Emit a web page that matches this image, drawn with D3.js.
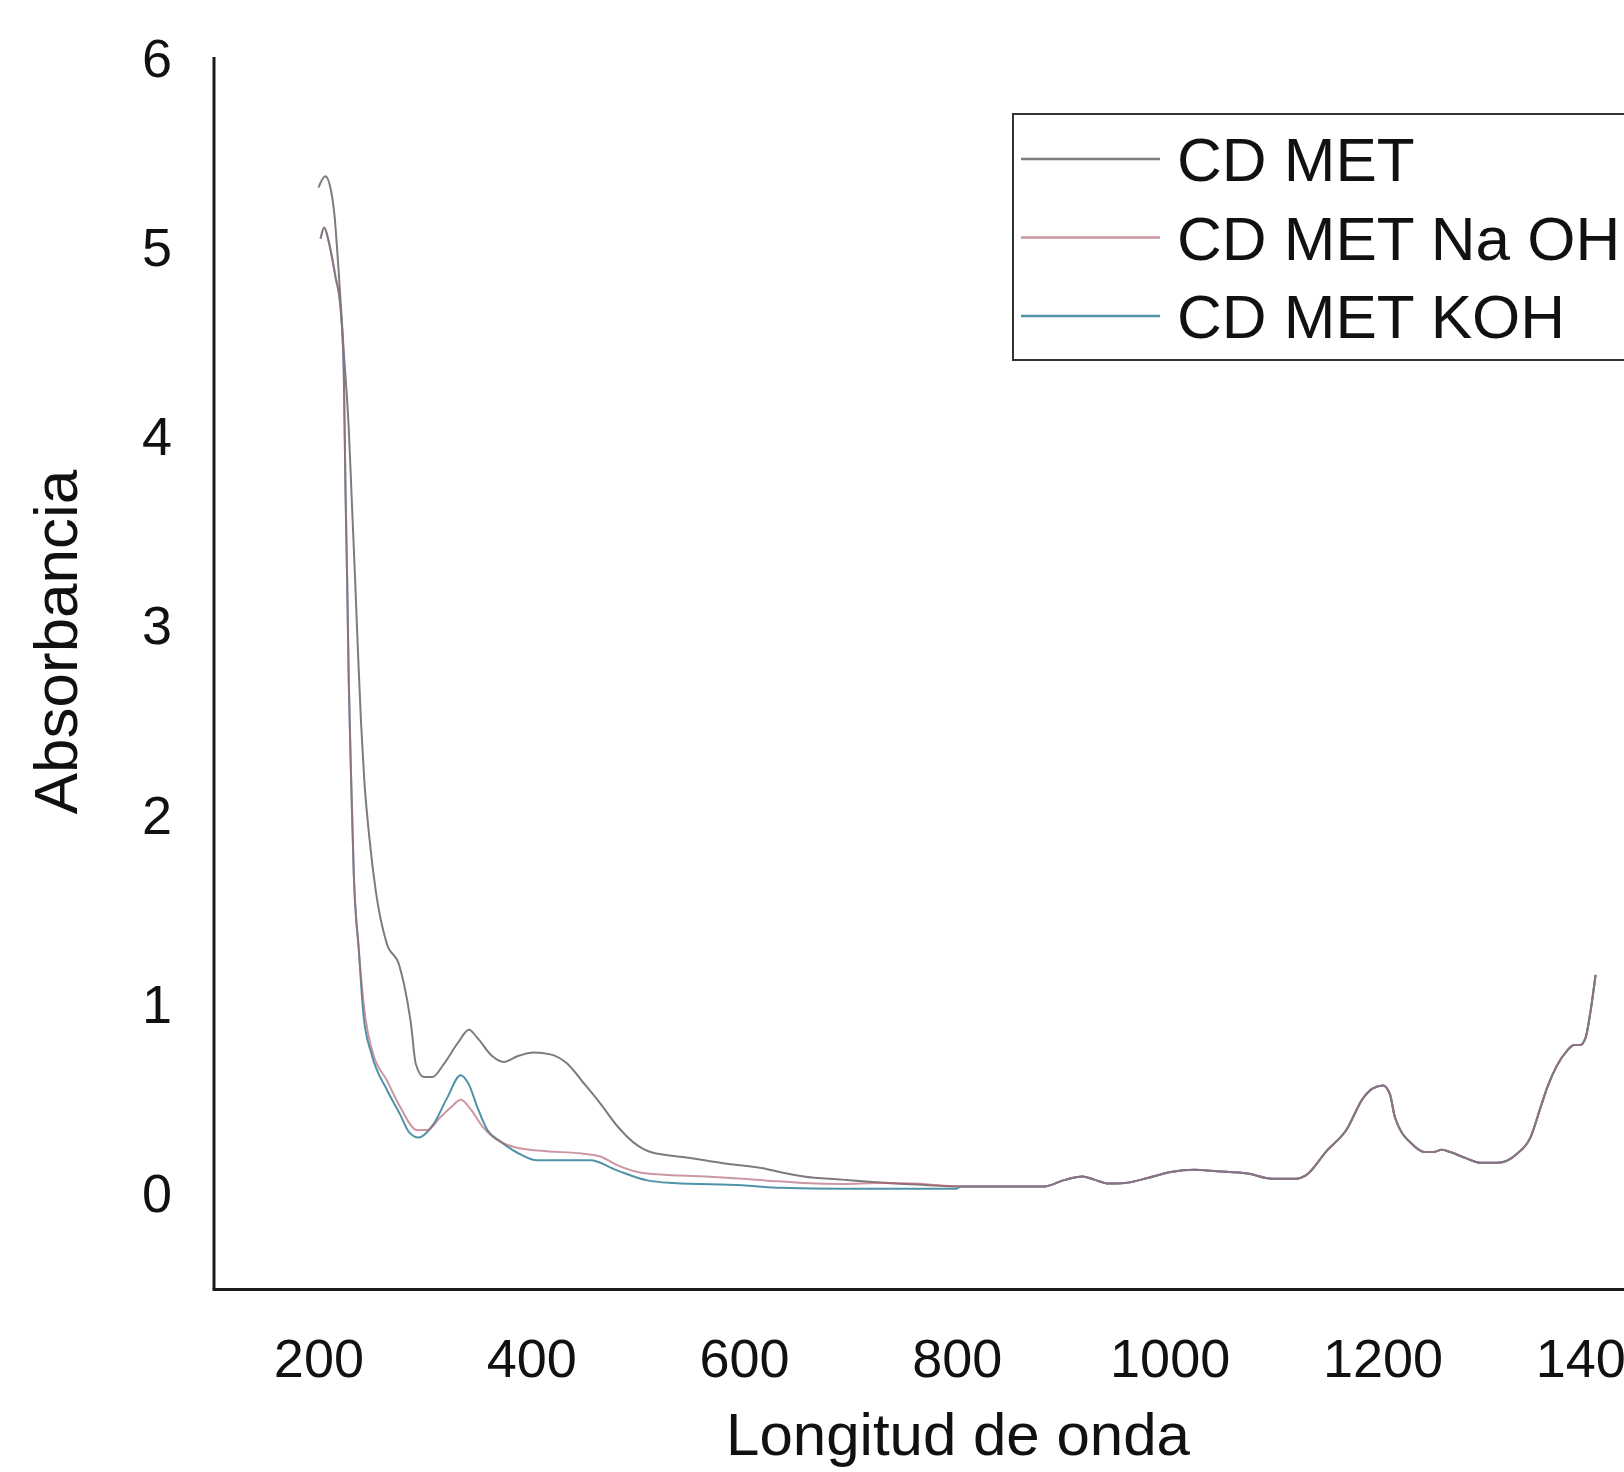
<!DOCTYPE html>
<html>
<head>
<meta charset="utf-8">
<script src="https://cdn.jsdelivr.net/npm/d3@7"></script>
<style>
  body { margin: 0; background: #fff; }
  text { font-family: "Liberation Sans", Arial, sans-serif; fill: #111; }
</style>
</head>
<body>
<div id="chart"></div>
<script>
// wavelengths (nm) and absorbance
const metWl = [200, 206.5, 212, 215, 219, 224, 228.5, 231.5, 234.5, 237, 240, 243, 248, 254, 264, 276, 280.5, 287, 291.5, 299, 307, 318, 331, 341.5, 349, 363.5, 374, 387, 402.5, 418, 434, 449, 465, 481, 499.5, 512, 548, 584, 620, 638, 656, 692, 721, 743, 770];
const metAbs = [5.32, 5.38, 5.30, 5.18, 4.88, 4.44, 4.05, 3.65, 3.25, 2.89, 2.50, 2.20, 1.88, 1.60, 1.33, 1.21, 1.11, 0.90, 0.69, 0.62, 0.62, 0.69, 0.80, 0.87, 0.83, 0.73, 0.70, 0.73, 0.75, 0.74, 0.69, 0.59, 0.48, 0.36, 0.26, 0.224, 0.194, 0.162, 0.136, 0.113, 0.095, 0.078, 0.065, 0.057, 0.05];

const naohWl = [202, 205.5, 209.5, 216, 220.7, 223.8, 225.4, 227, 228.5, 230.8, 233.2, 238, 244, 250.5, 264.6, 277, 292.7, 302, 315, 324.6, 334, 343, 354, 365, 384, 409, 449, 465, 480.6, 509, 540, 564, 620, 656, 692, 728, 760, 782];
const naohAbs = [5.05, 5.11, 5.04, 4.85, 4.69, 4.36, 3.74, 3.25, 2.72, 2.19, 1.70, 1.29, 0.94, 0.76, 0.60, 0.46, 0.34, 0.34, 0.41, 0.46, 0.50, 0.45, 0.36, 0.30, 0.25, 0.23, 0.215, 0.20, 0.155, 0.11, 0.10, 0.095, 0.074, 0.06, 0.055, 0.06, 0.057, 0.048];

const kohWl = [202, 205.5, 209.5, 216, 220.7, 223.8, 225.4, 227, 228.5, 230.8, 233.2, 238, 242.5, 250, 264.6, 277, 285, 294, 308, 321, 333.7, 341.5, 349.4, 358.8, 371, 387, 405.7, 455.6, 480.6, 509, 533.5, 598, 634, 692, 800];
const kohAbs = [5.05, 5.11, 5.04, 4.85, 4.69, 4.36, 3.74, 3.25, 2.72, 2.19, 1.70, 1.29, 0.94, 0.74, 0.55, 0.42, 0.33, 0.30, 0.37, 0.51, 0.63, 0.58, 0.46, 0.34, 0.28, 0.22, 0.18, 0.18, 0.127, 0.074, 0.06, 0.048, 0.035, 0.03, 0.03];

// the three spectra coincide beyond ~800 nm
const tailWl = [803, 882, 900, 918, 929, 943, 958, 980, 1001, 1023, 1044.5, 1073, 1097, 1119, 1128, 1147.6, 1166, 1182, 1191, 1200.5, 1207, 1211.6, 1229, 1240, 1248, 1255.8, 1263.6, 1279, 1292, 1308, 1326.5, 1339, 1348.6, 1355, 1373.6, 1380, 1386, 1391, 1395.6, 1400.3];
const tailAbs = [0.042, 0.042, 0.074, 0.095, 0.078, 0.057, 0.06, 0.088, 0.118, 0.13, 0.122, 0.11, 0.083, 0.083, 0.10, 0.23, 0.34, 0.51, 0.56, 0.576, 0.53, 0.41, 0.26, 0.224, 0.224, 0.236, 0.224, 0.19, 0.167, 0.167, 0.215, 0.30, 0.46, 0.567, 0.76, 0.79, 0.79, 0.83, 0.97, 1.16];

const seriesNames = ["CD MET", "CD MET Na OH", "CD MET KOH"];
const xTicks = [200, 400, 600, 800, 1000, 1200, 1400];
const yTicks = [0, 1, 2, 3, 4, 5, 6];

const width = 1624;
const height = 1472;

const series = [
  { name: seriesNames[0], wl: metWl.concat(tailWl), abs: metAbs.concat(tailAbs), color: "#7c7c7c", opacity: 1 },
  { name: seriesNames[1], wl: naohWl.concat(tailWl), abs: naohAbs.concat(tailAbs), color: "#b0606e", opacity: 0.65 },
  { name: seriesNames[2], wl: kohWl.concat(tailWl), abs: kohAbs.concat(tailAbs), color: "#4f93a8", opacity: 1 },
];

const svg = d3
  .select("#chart")
  .append("svg")
  .attr("width", width)
  .attr("height", height);

const x = d3.scaleLinear().domain([100, 1427]).range([212, 1624]);
const y = d3.scaleLinear().domain([-0.5, 6]).range([1289, 59]);

const line = d3
  .line()
  .x((d) => x(d[0]))
  .y((d) => y(d[1]))
  .curve(d3.curveMonotoneX);

// gray first, then KOH, NaOH on top so the shared tail reads purple-grey
[series[0], series[2], series[1]].forEach((s) => {
  svg
    .append("path")
    .datum(d3.zip(s.wl, s.abs))
    .attr("fill", "none")
    .attr("stroke", s.color)
    .attr("stroke-width", 2)
    .attr("stroke-opacity", s.opacity)
    .attr("d", line);
});

const xAxis = d3.axisBottom(x).tickValues(xTicks).tickFormat(d3.format("d")).tickSize(0).tickPadding(50);
const yAxis = d3.axisLeft(y).tickValues(yTicks).tickFormat(d3.format("d")).tickSize(0).tickPadding(42);

const gx = svg
  .append("g")
  .attr("transform", `translate(0, ${y(-0.5)})`)
  .call(xAxis);

const gy = svg
  .append("g")
  .attr("transform", `translate(${x(100) + 2}, 0)`)
  .call(yAxis);

gx.select(".domain").attr("stroke", "#1a1a1a").attr("stroke-width", 3);
gy.select(".domain").attr("stroke", "#1a1a1a").attr("stroke-width", 3)
  .attr("d", `M0,${y(6) - 2}V${y(-0.5)}`);
gx.selectAll("text").attr("font-size", 54).attr("font-family", "Liberation Sans, Arial").attr("fill", "#111");
gy.selectAll("text").attr("font-size", 54).attr("font-family", "Liberation Sans, Arial").attr("fill", "#111");

svg
  .append("text")
  .attr("x", 958)
  .attr("y", 1455)
  .attr("text-anchor", "middle")
  .attr("font-size", 60)
  .text("Longitud de onda");

svg
  .append("text")
  .attr("transform", "translate(77, 642) rotate(-90)")
  .attr("text-anchor", "middle")
  .attr("font-size", 62)
  .text("Absorbancia");

// legend
const legend = svg.append("g");
legend
  .append("rect")
  .attr("x", 1013)
  .attr("y", 114)
  .attr("width", 700)
  .attr("height", 246)
  .attr("fill", "#fff")
  .attr("stroke", "#333")
  .attr("stroke-width", 2);

const rows = legend
  .selectAll(".row")
  .data(series)
  .enter()
  .append("g")
  .attr("class", "row")
  .attr("transform", (d, i) => `translate(0, ${159 + i * 78.5})`);

rows
  .append("line")
  .attr("x1", 1021)
  .attr("x2", 1160)
  .attr("stroke", (d) => d.color)
  .attr("stroke-opacity", (d) => d.opacity)
  .attr("stroke-width", 2.5);

rows
  .append("text")
  .attr("x", 1177)
  .attr("y", 22)
  .attr("font-size", 62)
  .text((d) => d.name);
</script>
</body>
</html>
